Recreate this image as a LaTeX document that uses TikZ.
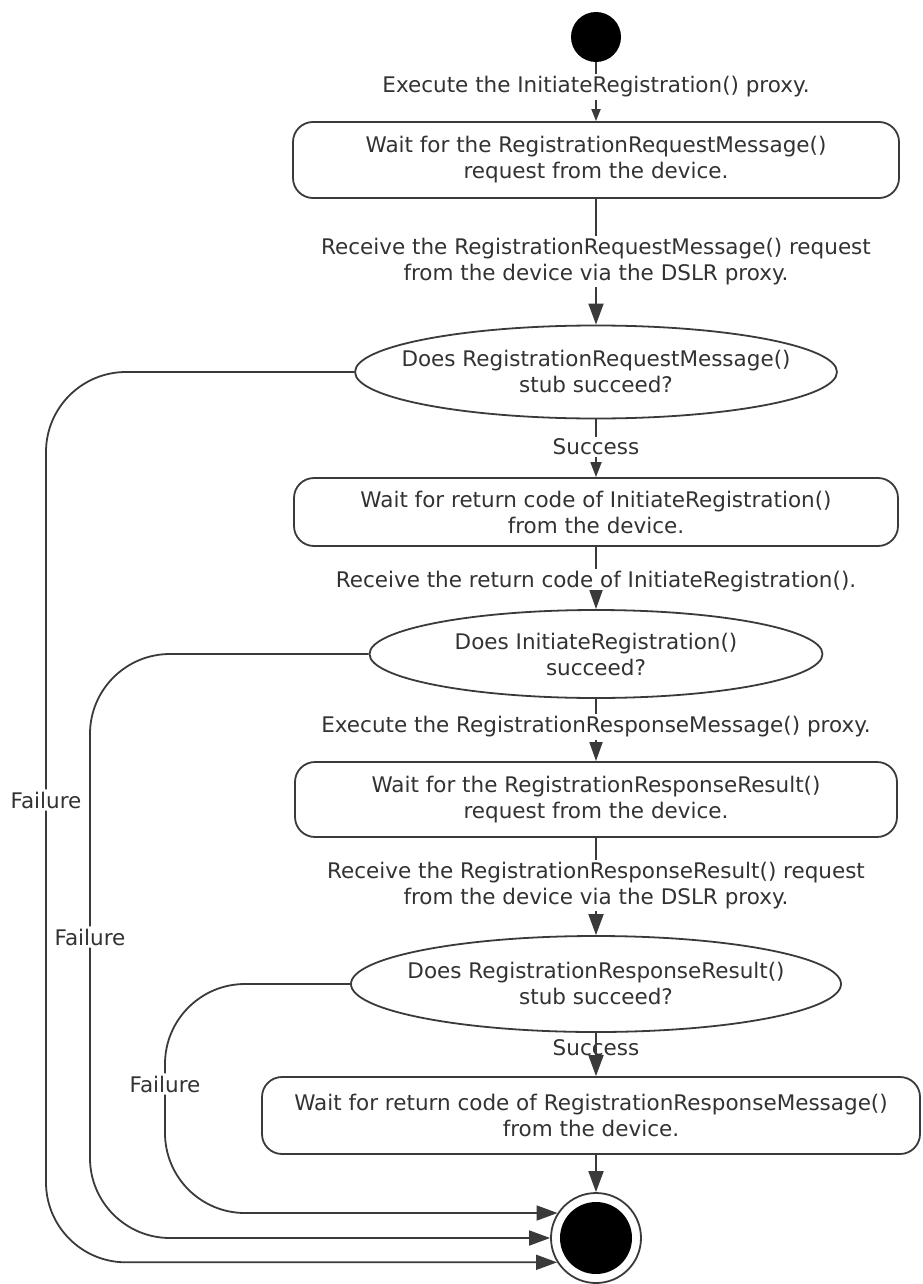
\documentclass[tikz,border=0pt]{standalone}
\usepackage{fontspec}
\setmainfont{DejaVu Sans}
\usetikzlibrary{shapes.geometric,arrows.meta}
\definecolor{ink}{RGB}{58,58,58}
\definecolor{txt}{RGB}{50,50,50}
\begin{document}
\begin{tikzpicture}[x=1pt,y=-1pt,
  txtnode/.style={font=\fontsize{21.5}{26}\selectfont, text=txt, align=center, inner sep=2pt},
  ln/.style={draw=ink, line width=1.8pt},
  arrT/.style={ln, -{Triangle[length=12pt,width=9pt]}},
  arrS/.style={ln, -{Triangle[length=15pt,width=11pt]}},
  arrM/.style={ln, -{Triangle[length=19pt,width=13pt]}},
  arrL/.style={ln, -{Triangle[length=21pt,width=15pt]}},
  statebox/.style={draw=ink, line width=1.8pt, rounded corners=20pt, txtnode},
  dec/.style={ellipse, draw=ink, line width=1.8pt, inner sep=0pt},
  fail/.style={ln, rounded corners=80pt}]
\useasboundingbox (0,0) rectangle (922,1284);

% nodes
\node[circle, fill=black, minimum size=50pt, inner sep=0pt] (start) at (596,37) {};
\node[txtnode] (lab1) at (596,87) {Execute the InitiateRegistration() proxy.};
\node[statebox, minimum width=606pt, minimum height=76pt] (box1) at (596,160)
  {Wait for the RegistrationRequestMessage()\\request from the device.};
\node[txtnode] (lab2) at (596,261.5)
  {Receive the RegistrationRequestMessage() request\\from the device via the DSLR proxy.};
\node[dec, minimum width=482pt, minimum height=93pt] (dec1) at (596,372) {};
\node[txtnode] (dec1t) at (596,371.5) {Does RegistrationRequestMessage()\\stub succeed?};
\node[txtnode] (succ1) at (596,447) {Success};
\node[statebox, minimum width=604pt, minimum height=68pt] (box2) at (596,512)
  {Wait for return code of InitiateRegistration()\\from the device.};
\node[txtnode] (lab3) at (596,582) {Receive the return code of InitiateRegistration().};
\node[dec, minimum width=453pt, minimum height=88pt] (dec2) at (596,654) {};
\node[txtnode] (dec2t) at (596,654.5) {Does InitiateRegistration()\\succeed?};
\node[txtnode] (lab4) at (596,727) {Execute the RegistrationResponseMessage() proxy.};
\node[statebox, minimum width=602pt, minimum height=75pt] (box3) at (596,799.5)
  {Wait for the RegistrationResponseResult()\\request from the device.};
\node[txtnode] (lab5) at (596,885.5)
  {Receive the RegistrationResponseResult() request\\from the device via the DSLR proxy.};
\node[dec, minimum width=490pt, minimum height=96pt] (dec3) at (596,984) {};
\node[txtnode] (dec3t) at (596,983.5) {Does RegistrationResponseResult()\\stub succeed?};
\node[txtnode] (succ2) at (596,1048) {Success};
\node[statebox, minimum width=658pt, minimum height=77pt] (box4) at (591,1115.5)
  {Wait for return code of RegistrationResponseMessage()\\from the device.};
\node[circle, draw=ink, line width=1.8pt, minimum size=90pt, inner sep=0pt] (final) at (596,1238) {};
\node[circle, fill=black, minimum size=72pt, inner sep=0pt] (finaldot) at (final) {};

\node[txtnode] (fl1) at (46,800) {Failure};
\node[txtnode] (fl2) at (90,937) {Failure};
\node[txtnode] (fl3) at (165,1084) {Failure};

% main flow
\draw[ln] (start.south) -- (lab1.north);
\draw[arrT] (lab1.south) -- (box1.north);
\draw[ln] (box1.south) -- (lab2.north);
\draw[arrL] (lab2.south) -- (dec1.north);
\draw[ln] (dec1.south) -- (succ1.north);
\draw[arrS] (succ1.south) -- (box2.north);
\draw[ln] (box2.south) -- (lab3.north);
\draw[arrM] (lab3.south) -- (dec2.north);
\draw[ln] (dec2.south) -- (lab4.north);
\draw[arrM] (lab4.south) -- (box3.north);
\draw[ln] (box3.south) -- (lab5.north);
\draw[arrL] (lab5.south) -- (dec3.north);
\draw[arrL] (dec3.south) -- (dec3.south |- box4.north);
\draw[arrL] (box4.south -| final.north) -- (final.north);

% failure branches
\draw[fail] (dec1.west) -- (dec1.west -| fl1.north) -- (fl1.north);
\draw[fail, arrL] (fl1.south) -- (fl1.south |- final.212) -- (final.212);
\draw[fail] (dec2.west) -- (dec2.west -| fl2.north) -- (fl2.north);
\draw[fail, arrL] (fl2.south) -- (fl2.south |- final.west) -- (final.west);
\draw[fail] (dec3.west) -- (dec3.west -| fl3.north) -- (fl3.north);
\draw[fail, arrL] (fl3.south) -- (fl3.south |- final.147) -- (final.147);
\end{tikzpicture}
\end{document}
